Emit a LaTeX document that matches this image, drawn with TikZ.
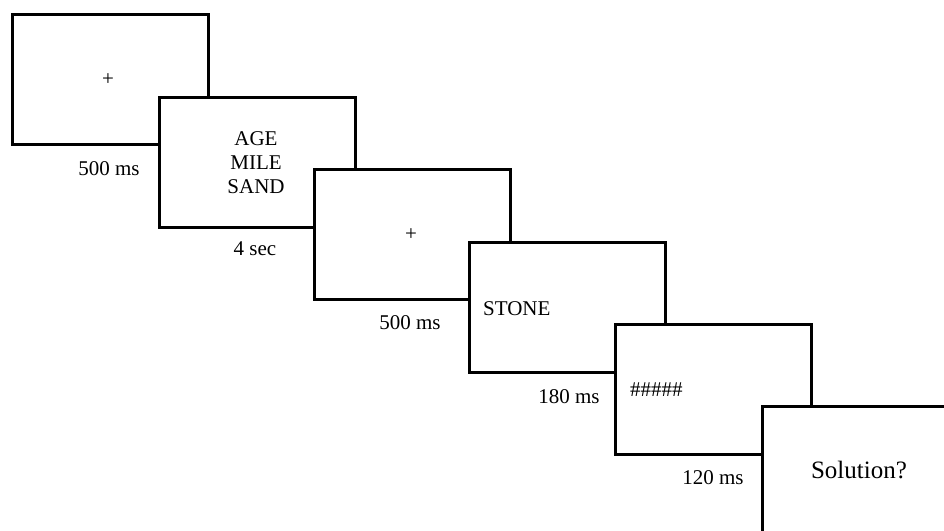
\documentclass[tikz,border=0pt]{standalone}
\usepackage{fontspec}
\setmainfont{Liberation Serif}
\begin{document}
\begin{tikzpicture}[x=1pt,y=-1pt,
  screen/.style={draw=black,fill=white,line width=2.6pt,rectangle,minimum width=196pt,minimum height=130pt,inner sep=0pt,anchor=north west},
  lbl/.style={font=\fontsize{21}{24}\selectfont,inner sep=0pt,anchor=base},
  big/.style={font=\fontsize{25}{28}\selectfont,inner sep=0pt,anchor=base}]
\useasboundingbox (0,0) rectangle (944,530);
\clip (0,0) rectangle (944,530);
\node[screen] (b1) at (11,13) {};
\node[screen] (b2) at (158,96) {};
\node[screen] (b3) at (313,168) {};
\node[screen] (b4) at (468,241) {};
\node[screen] (b5) at (614,323) {};
\node[screen,minimum width=220pt,minimum height=150pt] (b6) at (761,405) {};
% box 1
\node[lbl,anchor=center] (t1) at (108,80) {+};
\node[lbl] (d1) at (109,175) {500 ms};
% box 2
\node[lbl] (w1) at (256,145) {AGE};
\node[lbl] (w2) at (256,169) {MILE};
\node[lbl] (w3) at (256,193) {SAND};
\node[lbl] (d2) at (255,255) {4 sec};
% box 3
\node[lbl,anchor=center] (t3) at (411,235) {+};
\node[lbl] (d3) at (410,329) {500 ms};
% box 4
\node[lbl,anchor=base west] (s4) at (483,315) {STONE};
\node[lbl] (d4) at (569,403) {180 ms};
% box 5
\node[lbl,anchor=base west] (m5) at (630,396) {\#\#\#\#\#};
\node[lbl] (d5) at (713,484) {120 ms};
% box 6
\node[big] (q6) at (859,478) {Solution?};
\end{tikzpicture}
\end{document}
